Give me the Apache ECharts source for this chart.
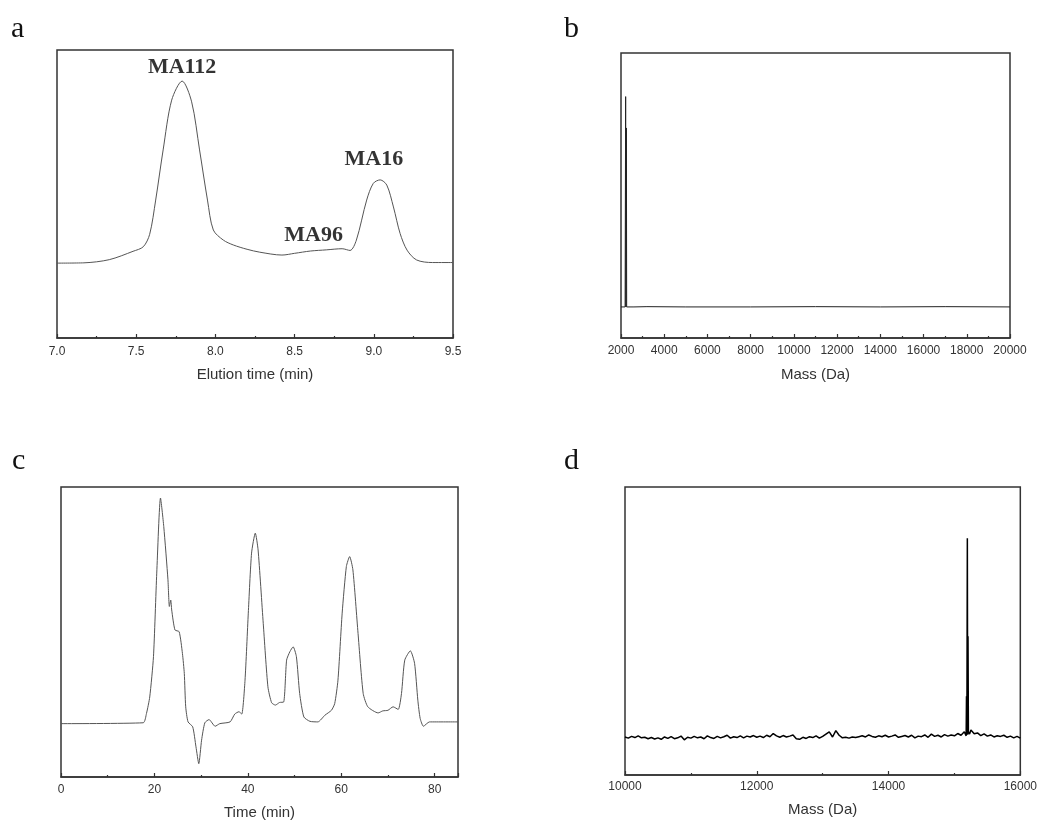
<!DOCTYPE html>
<html>
<head>
<meta charset="utf-8">
<script src="https://cdn.jsdelivr.net/npm/echarts@6/dist/echarts.min.js"></script>
<style>
  html, body { margin: 0; padding: 0; background: #fff; }
  #main { width: 1040px; height: 821px; }
</style>
</head>
<body>
<div id="main"></div>
<script>
    var myChart = echarts.init(document.getElementById('main'));

    // a: 洗脫曲線 (elution time, signal)
    var elutionA = [
        [7.00, 26.0], [7.17, 26.1], [7.33, 27.2], [7.48, 30.1], [7.545, 31.7],
        [7.585, 36.0], [7.623, 47.9], [7.67, 65.3], [7.724, 82.6], [7.79, 89.2],
        [7.85, 82.0], [7.90, 65.3], [7.95, 47.9], [7.987, 37.5], [8.05, 34.0],
        [8.113, 32.3], [8.20, 30.8], [8.28, 29.8], [8.42, 28.8], [8.50, 29.4],
        [8.60, 30.2], [8.70, 30.6], [8.80, 31.0], [8.85, 30.4], [8.89, 34.0],
        [8.955, 47.9], [8.997, 53.7], [9.04, 54.9], [9.082, 53.1], [9.124, 45.5],
        [9.166, 36.3], [9.21, 30.5], [9.27, 27.1], [9.37, 26.2], [9.50, 26.2]
    ];
    var peakLabelsA = [
        { name: 'MA112', value: [7.79, 94.1] },
        { name: 'MA96', value: [8.62, 35.8] },
        { name: 'MA16', value: [9.00, 62.2] }
    ];

    // b: 質譜 (mass, intensity)
    var massB = [
        [2000, 10.9], [2190, 10.9], [2205, 10.9], [2215, 84.7], [2225, 10.9],
        [2240, 10.9], [2250, 73.7], [2262, 10.9], [2600, 10.9], [3200, 11.0],
        [5000, 10.9], [8000, 10.9], [11000, 11.0], [14000, 10.9], [17000, 11.0],
        [20000, 10.9]
    ];

    // c: 層析圖 (time, signal)
    var timeC = [
        [0, 18.4], [17.6, 18.7], [18.3, 21.9], [19.0, 27.6], [19.8, 41.5],
        [20.5, 70.3], [21.3, 96.2], [22.0, 86.4], [22.9, 68.0], [23.2, 58.8],
        [23.5, 61.0], [23.7, 57.6], [24.4, 50.7], [25.3, 50.1], [26.0, 42.6],
        [26.4, 35.7], [26.7, 24.2], [27.2, 19.0], [28.2, 17.3], [28.9, 10.4],
        [29.5, 4.6], [30.1, 12.7], [30.8, 18.7], [31.7, 19.8], [33.0, 17.5],
        [34.0, 18.4], [36.2, 19.0], [37.2, 21.7], [38.1, 22.5], [38.7, 21.7],
        [39.4, 33.4], [40.1, 56.5], [40.8, 77.2], [41.6, 84.1], [42.2, 78.3],
        [43.3, 53.0], [44.3, 31.1], [45.1, 25.6], [45.9, 24.8], [46.8, 25.7],
        [47.7, 25.9], [48.3, 40.3], [49.0, 43.2], [49.7, 44.9], [50.4, 41.5],
        [51.1, 28.8], [52.0, 20.7], [53.3, 19.2], [55.0, 19.0], [56.5, 21.3],
        [57.9, 23.0], [58.6, 25.3], [59.3, 33.4], [60.2, 56.5], [61.1, 72.6],
        [61.8, 76.0], [62.5, 71.4], [63.6, 49.5], [64.7, 28.8], [65.7, 24.2],
        [67.9, 22.1], [68.9, 22.8], [70.0, 23.0], [71.1, 24.2], [72.2, 23.3],
        [72.9, 28.8], [73.6, 40.3], [74.8, 43.5], [75.7, 39.2], [76.4, 26.5],
        [76.9, 20.2], [77.6, 17.5], [78.9, 19.0], [85, 19.0]
    ];

    // d: 質譜 (mass, intensity)
    var massD = [
        [10000, 13.2], [10050, 12.8], [10100, 13.4], [10150, 13.0], [10200, 13.6],
        [10250, 12.9], [10300, 13.1], [10350, 12.6], [10400, 13.0], [10450, 12.5],
        [10500, 12.9], [10550, 12.4], [10600, 13.2], [10650, 12.7], [10700, 13.3],
        [10750, 12.6], [10800, 12.9], [10850, 13.5], [10900, 12.2], [10950, 13.1],
        [11000, 12.8], [11050, 13.4], [11100, 12.9], [11150, 13.2], [11200, 12.6],
        [11250, 13.6], [11300, 13.0], [11350, 12.7], [11400, 13.4], [11450, 12.9],
        [11500, 13.3], [11550, 13.8], [11600, 12.8], [11650, 13.3], [11700, 13.0],
        [11750, 13.6], [11800, 12.9], [11850, 13.5], [11900, 13.2], [11950, 13.7],
        [12000, 13.1], [12050, 13.5], [12100, 13.0], [12150, 13.8], [12200, 13.3],
        [12250, 14.4], [12300, 13.6], [12350, 13.1], [12400, 13.7], [12450, 13.2],
        [12500, 13.5], [12550, 13.9], [12600, 12.6], [12650, 12.4], [12700, 13.1],
        [12750, 12.7], [12800, 13.3], [12850, 13.0], [12900, 13.6], [12950, 12.8],
        [13000, 13.4], [13050, 14.2], [13100, 15.0], [13150, 13.2], [13200, 15.4],
        [13250, 13.8], [13300, 12.9], [13350, 13.1], [13400, 12.8], [13450, 13.2],
        [13500, 13.0], [13550, 13.3], [13600, 13.6], [13650, 13.2], [13700, 13.9],
        [13750, 13.4], [13800, 13.1], [13850, 13.6], [13900, 13.3], [13950, 13.8],
        [14000, 13.2], [14050, 13.5], [14100, 13.9], [14150, 13.1], [14200, 13.4],
        [14250, 13.7], [14300, 13.2], [14350, 13.8], [14400, 12.9], [14450, 13.5],
        [14500, 13.3], [14550, 13.9], [14600, 13.1], [14650, 14.2], [14700, 13.4],
        [14750, 13.8], [14800, 13.2], [14850, 14.0], [14900, 13.5], [14950, 13.9],
        [15000, 13.6], [15050, 14.4], [15100, 13.8], [15150, 15.0], [15170, 14.6],
        [15178, 13.6], [15183, 27.3], [15189, 14.0], [15196, 82.2], [15201, 14.0],
        [15206, 48.2], [15212, 15.0], [15230, 14.2], [15250, 15.6], [15300, 14.3],
        [15350, 14.6], [15400, 13.7], [15450, 14.3], [15500, 13.5], [15550, 13.9],
        [15600, 13.2], [15650, 13.6], [15700, 13.4], [15750, 13.8], [15800, 13.1],
        [15850, 13.5], [15900, 12.9], [15950, 13.4], [16000, 12.8]
    ];

    var frame = '#333';
    var sans = 'Liberation Sans, Arial, sans-serif';

    // 不要千分位
    function plain(v) { return String(v); }

    function makeX(idx, min, max, interval, name, opts) {
        return Object.assign({
            type: 'value', gridIndex: idx, min: min, max: max, interval: interval,
            name: name, nameLocation: 'middle', nameGap: 29,
            nameTextStyle: { fontFamily: sans, fontSize: 15, color: '#333' },
            axisLine: { show: true, lineStyle: { color: frame, width: 1.5 } },
            axisTick: { show: true, inside: true, length: 4, lineStyle: { color: frame, width: 1.2 } },
            minorTick: { show: true, splitNumber: 2, length: 2, lineStyle: { color: frame, width: 1.2 } },
            axisLabel: { fontFamily: sans, fontSize: 12, color: '#333', margin: 8, formatter: plain },
            splitLine: { show: false }
        }, opts || {});
    }
    function makeY(idx) {
        return {
            type: 'value', gridIndex: idx, min: 0, max: 100,
            axisLine: { show: false }, axisTick: { show: false },
            axisLabel: { show: false }, splitLine: { show: false }
        };
    }
    function letter(text, left, top) {
        return {
            text: text, left: left, top: top, padding: 0,
            textStyle: { fontFamily: 'Liberation Serif, Times New Roman, serif', fontSize: 30, fontWeight: 'normal', color: '#111' }
        };
    }

    var gridStyle = { show: true, borderColor: frame, borderWidth: 1.5, containLabel: false };

    var option = {
        animation: false,
        backgroundColor: '#fff',
        title: [letter('a', 11, 14), letter('b', 564, 14), letter('c', 12, 446), letter('d', 564, 446)],
        grid: [
            Object.assign({ left: 57, top: 50, width: 396, height: 288 }, gridStyle),
            Object.assign({ left: 621, top: 53, width: 389, height: 285 }, gridStyle),
            Object.assign({ left: 61, top: 487, width: 397, height: 290 }, gridStyle),
            Object.assign({ left: 625, top: 487, width: 397, height: 288 }, gridStyle)
        ],
        xAxis: [
            makeX(0, 7, 9.5, 0.5, 'Elution time (min)', {
                axisLabel: { fontFamily: sans, fontSize: 12, color: '#333', margin: 8, formatter: function (v) { return v.toFixed(1); } }
            }),
            makeX(1, 2000, 20000, 2000, 'Mass (Da)', {
                axisLabel: { fontFamily: sans, fontSize: 12, color: '#333', margin: 7, formatter: plain }
            }),
            makeX(2, 0, 85, 20, 'Time (min)', {
                nameGap: 28,
                axisLabel: { fontFamily: sans, fontSize: 12, color: '#333', margin: 7, showMaxLabel: false, formatter: plain }
            }),
            makeX(3, 10000, 16000, 2000, 'Mass (Da)', {
                nameGap: 27,
                axisLabel: { fontFamily: sans, fontSize: 12, color: '#333', margin: 6, formatter: plain }
            })
        ],
        yAxis: [makeY(0), makeY(1), makeY(2), makeY(3)],
        series: [
            {
                type: 'line', xAxisIndex: 0, yAxisIndex: 0, data: elutionA,
                smooth: 0.3, symbol: 'none', lineStyle: { color: '#555', width: 1 }
            },
            {
                type: 'scatter', xAxisIndex: 0, yAxisIndex: 0, data: peakLabelsA,
                symbolSize: 0, silent: true,
                label: {
                    show: true, position: 'inside', formatter: '{b}',
                    fontFamily: 'Liberation Serif, Times New Roman, serif',
                    fontSize: 22, fontWeight: 'bold', color: '#000'
                }
            },
            {
                type: 'line', xAxisIndex: 1, yAxisIndex: 1, data: massB,
                symbol: 'none', lineStyle: { color: '#222', width: 1 }
            },
            {
                type: 'line', xAxisIndex: 2, yAxisIndex: 2, data: timeC,
                smooth: 0.2, symbol: 'none', lineStyle: { color: '#555', width: 1 }
            },
            {
                type: 'line', xAxisIndex: 3, yAxisIndex: 3, data: massD,
                symbol: 'none', lineStyle: { color: '#000', width: 1.5 }
            }
        ]
    };

    myChart.setOption(option);

    window.addEventListener('resize', function () {
        myChart.resize();
    });
</script>
</body>
</html>
